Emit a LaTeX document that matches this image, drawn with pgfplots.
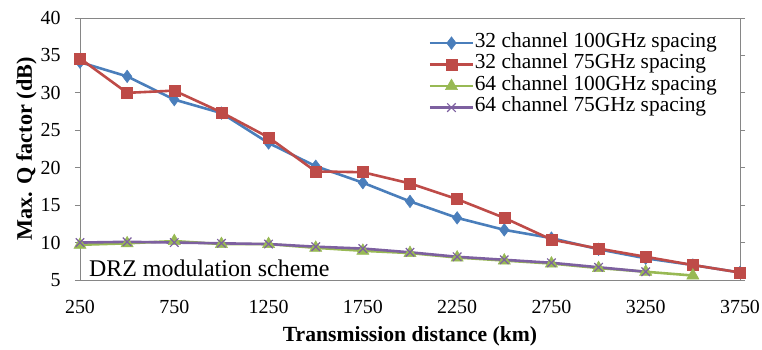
\documentclass[border=0pt]{standalone}
\usepackage{fontspec}
\setmainfont{Liberation Serif}
\usepackage{pgfplots}
\pgfplotsset{compat=1.18}
\definecolor{cBlue}{RGB}{74,126,187}
\definecolor{cRed}{RGB}{190,75,72}
\definecolor{cGreen}{RGB}{152,185,84}
\definecolor{cPurple}{RGB}{125,96,160}
\definecolor{cAxis}{RGB}{134,134,134}
\begin{document}
\begin{tikzpicture}
\begin{axis}[
  scale only axis, width=660bp, height=262bp,
  xmin=250, xmax=3750, ymin=5, ymax=40,
  xtick={250,750,...,3750}, ytick={5,10,...,40},
  axis line style={cAxis, line width=0.8bp},
  xtick style={draw=none},
  ytick style={cAxis, line width=0.8bp},
  tick align=outside, major tick length=5bp,
  /pgf/number format/assume math mode=true,
  /pgf/number format/1000 sep={},
  tick label style={font=\fontsize{20}{22}\selectfont},
  xticklabel style={yshift=-12bp},
  yticklabel style={xshift=-11bp},
  xlabel={\textbf{Transmission distance (km)}},
  ylabel={\textbf{Max. Q factor (dB)}},
  xlabel style={font=\fontsize{21.7}{24}\selectfont, yshift=-6bp},
  ylabel style={font=\fontsize{22.3}{24}\selectfont, yshift=-3bp},
  legend cell align=left,
  legend style={draw=none, fill=none, at={(0.528,0.946)}, anchor=north west,
    font=\fontsize{21.5}{23}\selectfont, row sep=0pt, inner sep=0pt,
    nodes={inner sep=0.5bp, text height=14.5bp, text depth=6bp}},
  legend image code/.code={\draw[mark repeat=2,mark phase=2] plot coordinates {(0bp,0bp) (21.5bp,0bp) (43bp,0bp)};},
  every axis plot/.append style={line width=2.6bp},
]
\addplot[cBlue, mark=diamond*, mark size=6.3bp, mark options={solid, line width=0.5bp}] coordinates {
(250,34.1)(500,32.2)(750,29.1)(1000,27.3)(1250,23.3)(1500,20.2)(1750,18.0)(2000,15.5)(2250,13.3)(2500,11.7)(2750,10.6)(3000,9.1)(3250,7.9)(3500,7.0)(3750,6.0)};
\addlegendentry{32 channel 100GHz spacing}
\addplot[cRed, mark=square*, mark size=5.5bp, mark options={solid, line width=0.5bp}] coordinates {
(250,34.6)(500,30.0)(750,30.3)(1000,27.4)(1250,24.05)(1500,19.5)(1750,19.4)(2000,17.9)(2250,15.8)(2500,13.3)(2750,10.4)(3000,9.2)(3250,8.1)(3500,7.0)(3750,6.0)};
\addlegendentry{32 channel 75GHz spacing}
\addplot[cGreen, mark=triangle*, mark size=7bp, mark options={solid, line width=0.5bp}] coordinates {
(250,9.7)(500,9.9)(750,10.2)(1000,9.8)(1250,9.8)(1500,9.3)(1750,8.9)(2000,8.6)(2250,8.0)(2500,7.6)(2750,7.2)(3000,6.6)(3250,6.1)(3500,5.6)};
\addlegendentry{64 channel 100GHz spacing}
\addplot[cPurple, mark=x, mark size=6bp, mark options={solid, line width=1.2bp}] coordinates {
(250,10.0)(500,10.1)(750,10.0)(1000,9.9)(1250,9.8)(1500,9.45)(1750,9.2)(2000,8.7)(2250,8.1)(2500,7.7)(2750,7.3)(3000,6.7)(3250,6.1)};
\addlegendentry{64 channel 75GHz spacing}
\node[anchor=base west, inner sep=0, font=\fontsize{24}{26}\selectfont] at ([xshift=9bp,yshift=4bp]rel axis cs:0,0) {DRZ modulation scheme};
\end{axis}
\pgfresetboundingbox
\path[use as bounding box] ([xshift=-80bp,yshift=-70bp]current axis.south west) rectangle ([xshift=22bp,yshift=18bp]current axis.north east);
\end{tikzpicture}
\end{document}
